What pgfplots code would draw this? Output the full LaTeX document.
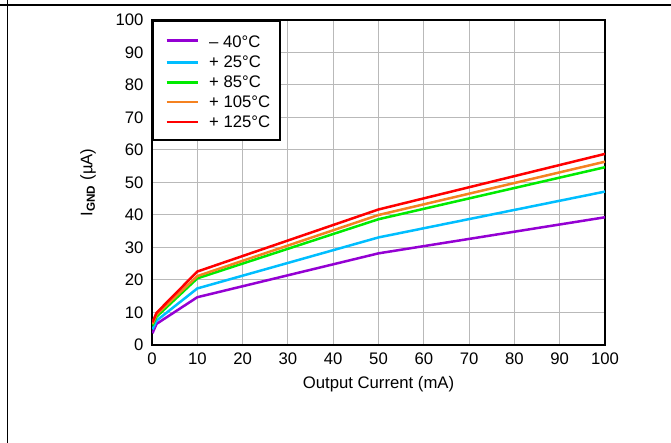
\documentclass[border=0pt]{standalone}
\usepackage{fontspec}
\setmainfont{Liberation Sans}
\usepackage{pgfplots}
\pgfplotsset{compat=1.18}
\definecolor{cPurple}{RGB}{148,0,211}
\definecolor{cBlue}{RGB}{0,190,255}
\definecolor{cGreen}{RGB}{0,235,0}
\definecolor{cOrange}{RGB}{245,130,32}
\definecolor{cRed}{RGB}{255,0,0}
\begin{document}
\begin{tikzpicture}[x=1pt,y=1pt]
\path[use as bounding box] (0,0) rectangle (671,443);
\draw[line width=1.3pt] (0,438) -- (671,438);
\draw[line width=1.3pt] (7.5,0) -- (7.5,443);
\begin{axis}[
  at={(152pt,98pt)}, anchor=south west,
  scale only axis, width=453pt, height=325pt,
  xmin=0, xmax=100, ymin=0, ymax=100,
  xtick={0,10,...,100}, ytick={0,10,...,100},
  grid=major, grid style={line width=1pt, color=gray!55},
  axis line style={line width=2pt},
  major tick length=0pt,
  /pgf/number format/assume math mode=true,
  tick label style={font=\fontsize{16.7}{20}\selectfont},
  xticklabel style={yshift=-4pt},
  yticklabel style={xshift=-5pt},
  xlabel={Output Current (mA)},
  ylabel={I\textsubscript{\textbf{GND}} (µA)},
  every axis x label/.style={at={(rel axis cs:0.5,0)}, yshift=-39pt, anchor=center, font=\fontsize{16.7}{20}\selectfont},
  every axis y label/.style={at={(rel axis cs:0,0.5)}, xshift=-64pt, anchor=center, rotate=90, font=\fontsize{16.7}{20}\selectfont},
  legend style={at={(0,1)}, anchor=north west, draw=black, line width=2pt, fill=white,
    font=\fontsize{16.7}{20}\selectfont, inner xsep=8pt, inner ysep=9pt, row sep=2.6pt,
    cells={anchor=west}},
  legend image code/.code={\path[draw=none,fill=none] (-5.7pt,0pt) -- (40.5pt,0pt); \draw[#1, line width=2.5pt] (0pt,0pt) -- (31.6pt,0pt);},
  every axis plot/.append style={line width=2.5pt},
]
\addplot[cPurple] coordinates {(0.1,3.6) (1,6.5) (10,14.7) (50,28.2) (100,39.3)};
\addlegendentry{\rule{0pt}{16pt}– 40°C}
\addplot[cBlue] coordinates {(0.1,4.8) (1,7.5) (10,17.4) (50,33.1) (100,47.2)};
\addlegendentry{+ 25°C}
\addplot[cGreen] coordinates {(0.1,6.0) (1,8.7) (10,20.5) (50,38.7) (100,54.7)};
\addlegendentry{+ 85°C}
\addplot[cOrange] coordinates {(0.1,6.5) (1,9.4) (10,21.2) (50,40.0) (100,56.4)};
\addlegendentry{+ 105°C}
\addplot[cRed] coordinates {(0.1,7.0) (1,9.9) (10,22.6) (50,41.7) (100,58.8)};
\addlegendentry{+ 125°C}
\end{axis}
\end{tikzpicture}
\end{document}
